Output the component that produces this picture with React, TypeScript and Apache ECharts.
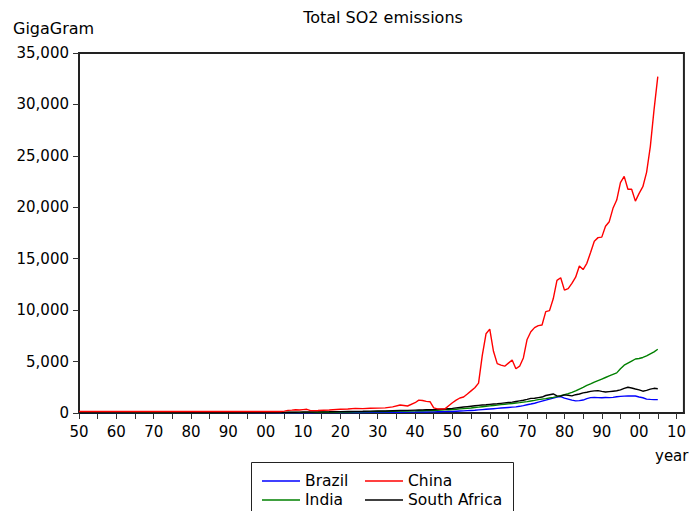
import React, { useEffect, useRef } from "react";
import * as echarts from "echarts";

const years = [
  1850, 1860, 1870, 1880, 1890, 1900,
  1904, 1905, 1906, 1907, 1908, 1909, 1910, 1911, 1912,
  1914, 1917,
  1920, 1922, 1924, 1926, 1928, 1930, 1932, 1934, 1936, 1938,
  1940, 1941, 1942, 1943, 1944, 1945, 1946, 1947, 1948, 1949,
  1950, 1951, 1952, 1953, 1954, 1955, 1956, 1957, 1958, 1959,
  1960, 1961, 1962, 1963, 1964, 1965, 1966, 1967, 1968, 1969,
  1970, 1971, 1972, 1973, 1974, 1975, 1976, 1977, 1978, 1979,
  1980, 1981, 1982, 1983, 1984, 1985, 1986, 1987, 1988, 1989,
  1990, 1991, 1992, 1993, 1994, 1995, 1996, 1997, 1998, 1999,
  2000, 2001, 2002, 2003, 2004, 2005,
];

const brazil = [
  5, 5, 8, 10, 12, 15,
  18, 20, 20, 22, 22, 25, 25, 28, 30,
  32, 35,
  40, 45, 50, 55, 60, 65, 70, 75, 80, 85,
  90, 95, 100, 100, 105, 110, 115, 120, 130, 140,
  150, 170, 190, 210, 230, 250, 270, 300, 330, 360,
  390, 420, 450, 480, 510, 540, 570, 600, 650, 720,
  800, 870, 950, 1050, 1150, 1250, 1350, 1450, 1540, 1600,
  1450, 1350, 1250, 1180, 1200, 1260, 1400, 1490, 1500, 1490,
  1480, 1500, 1490, 1520, 1580, 1620, 1640, 1650, 1660, 1650,
  1560, 1480, 1350, 1320, 1300, 1300,
];

const china = [
  140, 140, 145, 145, 150, 150,
  150, 180, 260, 280, 320, 290, 330, 360, 230,
  250, 290,
  360, 390, 450, 430, 460, 470, 500, 600, 780, 680,
  1000, 1250, 1220, 1130, 1100, 500, 400, 390, 400, 700,
  1000, 1250, 1460, 1560, 1850, 2150, 2450, 2900, 5600, 7700,
  8150, 6000, 4800, 4650, 4550, 4850, 5150, 4300, 4550, 5350,
  7150, 7900, 8300, 8500, 8550, 9850, 9950, 11100, 12900, 13150,
  11950, 12100, 12600, 13200, 14300, 13950, 14550, 15600, 16700, 17050,
  17100, 18150, 18600, 19900, 20700, 22400, 23000, 21750, 21750, 20600,
  21350, 22000, 23400, 25900, 29500, 32700,
];

const india = [
  10, 15, 20, 25, 30, 40,
  45, 50, 50, 55, 55, 60, 60, 65, 65,
  70, 80,
  90, 100, 110, 120, 130, 140, 150, 165, 180, 195,
  210, 220, 225, 230, 240, 250, 260, 280, 300, 320,
  340, 370, 400, 430, 460, 490, 530, 570, 610, 650,
  690, 730, 770, 810, 850, 890, 930, 970, 1010, 1060,
  1110, 1170, 1230, 1300, 1350, 1400, 1460, 1520, 1590, 1680,
  1790, 1880, 2000, 2150, 2330, 2500, 2680, 2830, 3000, 3150,
  3300, 3450, 3600, 3750, 3900, 4300, 4650, 4850, 5050, 5250,
  5300, 5400, 5550, 5750, 5950, 6200,
];

const southAfrica = [
  5, 10, 15, 20, 30, 45,
  60, 65, 70, 75, 80, 85, 90, 95, 100,
  110, 120,
  135, 145, 155, 165, 180, 190, 200, 220, 240, 260,
  280, 290, 300, 310, 320, 330, 350, 370, 390, 420,
  450, 500, 540, 580, 620, 660, 700, 740, 780, 800,
  840, 870, 900, 940, 980, 1020, 1060, 1120, 1180, 1240,
  1320, 1420, 1440, 1500, 1550, 1700, 1780, 1850, 1660, 1640,
  1760, 1720, 1660, 1780, 1850, 1960, 2020, 2100, 2150, 2170,
  2100, 2040, 2080, 2120, 2160, 2250, 2400, 2500, 2430, 2330,
  2250, 2120, 2200, 2320, 2400, 2360,
];

const xTickYears = [
  1850, 1855, 1860, 1865, 1870, 1875, 1880, 1885, 1890, 1895,
  1900, 1905, 1910, 1915, 1920, 1925, 1930, 1935, 1940, 1945,
  1950, 1955, 1960, 1965, 1970, 1975, 1980, 1985, 1990, 1995,
  2000, 2005, 2010,
];
const xLabelYears = [
  1850, 1860, 1870, 1880, 1890, 1900, 1910, 1920, 1930, 1940,
  1950, 1960, 1970, 1980, 1990, 2000, 2010,
];

const seriesNames = ["Brazil", "China", "India", "South Africa"];
const seriesColors = ["#0000ff", "#ff0000", "#008000", "#000000"];
const seriesValues = [brazil, china, india, southAfrica];

const FONT = "'DejaVu Sans', sans-serif";

export default function App() {
  const ref = useRef<HTMLDivElement>(null);
  useEffect(() => {
    const chart = echarts.init(ref.current!, null, { renderer: "svg" });
    chart.setOption({
      animation: false,
      backgroundColor: "#ffffff",
      grid: {
        left: 79,
        right: 2,
        top: 53,
        bottom: 98,
        show: true,
        borderColor: "#222",
        borderWidth: 2,
        backgroundColor: "transparent",
      },
      xAxis: {
        type: "value",
        min: 1850,
        max: 2012,
        splitLine: { show: false },
        axisLine: { show: true, lineStyle: { color: "#222", width: 2 } },
        axisTick: {
          show: true,
          inside: false,
          length: 6,
          customValues: xTickYears,
          lineStyle: { color: "#333", width: 1 },
        },
        axisLabel: {
          customValues: xLabelYears,
          margin: 11,
          color: "#000",
          fontFamily: FONT,
          fontSize: 15,
          formatter: (v: number) => String(Math.round(v) % 100).padStart(2, "0"),
        },
      },
      yAxis: {
        type: "value",
        min: 0,
        max: 35000,
        interval: 5000,
        splitLine: { show: false },
        axisLine: { show: true, lineStyle: { color: "#222", width: 2 } },
        axisTick: { show: true, inside: false, length: 6, lineStyle: { color: "#333", width: 1 } },
        axisLabel: {
          margin: 10,
          color: "#000",
          fontFamily: FONT,
          fontSize: 15,
          formatter: (v: number) => v.toLocaleString("en-US"),
        },
      },
      legend: [
        {
          data: [seriesNames[0], seriesNames[2]],
          orient: "vertical",
          left: 262,
          top: 473,
          padding: 0,
          itemWidth: 38,
          itemHeight: 1.5,
          itemGap: 3,
          icon: "rect",
          textStyle: { color: "#000", fontFamily: FONT, fontSize: 15.5 },
        },
        {
          data: [seriesNames[1], seriesNames[3]],
          orient: "vertical",
          left: 365,
          top: 473,
          padding: 0,
          itemWidth: 38,
          itemHeight: 1.5,
          itemGap: 3,
          icon: "rect",
          textStyle: { color: "#000", fontFamily: FONT, fontSize: 15.5 },
        },
      ],
      graphic: [
        {
          type: "text",
          x: 383,
          y: 17,
          style: {
            text: "Total SO2 emissions",
            align: "center",
            verticalAlign: "middle",
            fill: "#000",
            font: `16px ${FONT}`,
          },
        },
        {
          type: "text",
          x: 13,
          y: 28,
          style: {
            text: "GigaGram",
            align: "left",
            verticalAlign: "middle",
            fill: "#000",
            font: `16px ${FONT}`,
          },
        },
        {
          type: "text",
          x: 655,
          y: 456,
          style: {
            text: "year",
            align: "left",
            verticalAlign: "middle",
            fill: "#000",
            font: `15px ${FONT}`,
          },
        },
        {
          type: "rect",
          shape: { x: 251.5, y: 462.5, width: 262, height: 60 },
          style: { fill: "none", stroke: "#222", lineWidth: 1 },
          z: -1,
        },
      ],
      series: seriesNames.map((name, i) => ({
        name,
        type: "line",
        showSymbol: false,
        symbol: "none",
        color: seriesColors[i],
        lineStyle: { color: seriesColors[i], width: 1.4 },
        z: i === 1 ? 3 : 2,
        data: years.map((y, j) => [y, seriesValues[i][j]]),
      })),
    });
    return () => chart.dispose();
  }, []);
  return (
    <div
      ref={ref}
      style={{ width: 689, height: 511, position: "absolute", left: 0, top: 0 }}
    />
  );
}
